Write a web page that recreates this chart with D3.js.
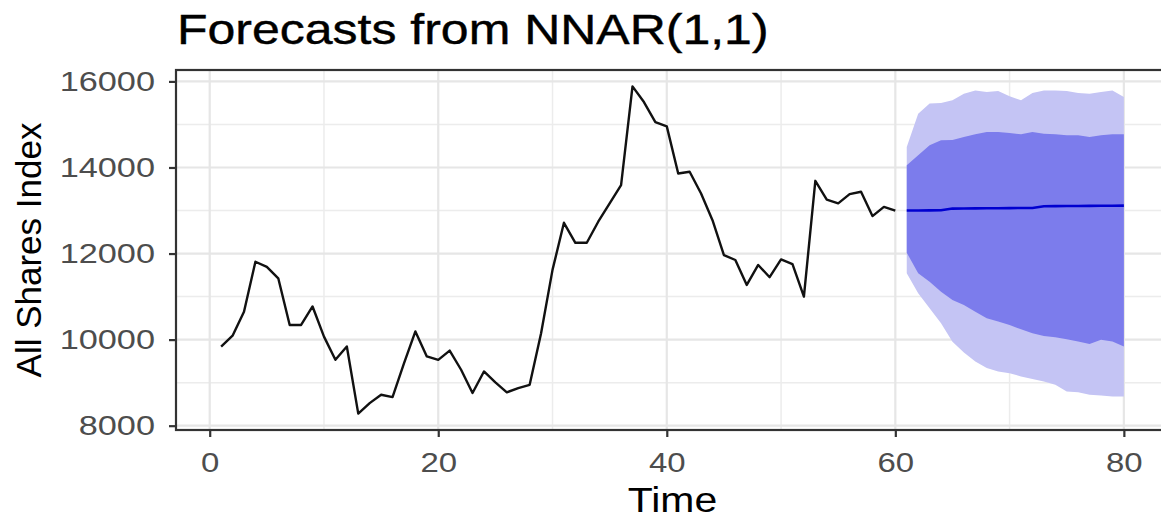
<!DOCTYPE html>
<html>
<head>
<meta charset="utf-8">
<script src="https://cdn.jsdelivr.net/npm/d3@7"></script>
<style>
  html, body { margin: 0; padding: 0; background: #fff; }
  svg { display: block; font-family: "Liberation Sans", Arial, sans-serif; }
</style>
</head>
<body>
<svg id="chart" width="1161" height="519"></svg>
<script>
// ---- data ----
const chartTitle = "Forecasts from NNAR(1,1)";
const xTitle = "Time";
const yTitle = "All Shares Index";
const histStart = 1;
const histValues = [
  9840, 10090, 10650, 11810, 11690, 11425, 10340, 10340, 10770, 10070,
  9530, 9840, 8280, 8525, 8720, 8665, 9450, 10190, 9610, 9530,
  9745, 9300, 8760, 9260, 9005, 8775, 8875, 8950, 10150, 11620,
  12715, 12250, 12250, 12740, 13165, 13590, 15885, 15520, 15055, 14955,
  13860, 13900, 13395, 12775, 11965, 11850, 11270, 11735, 11450, 11865,
  11755, 11000, 13690, 13255, 13165, 13380, 13435, 12870, 13085, 12995
];
const fcStart = 61;
const fcMean = [
  13000, 13002, 13004, 13006, 13045, 13048, 13050, 13052, 13054, 13056,
  13058, 13060, 13100, 13102, 13104, 13106, 13108, 13110, 13112, 13114
];
const lo80 = [
  12020, 11540, 11345, 11115, 10920, 10805, 10650, 10495, 10420, 10340,
  10240, 10150, 10085, 10055, 10010, 9955, 9900, 9995, 9955, 9840
];
const hi80 = [
  14050, 14285, 14515, 14630, 14640, 14710, 14770, 14825, 14825, 14800,
  14770, 14825, 14785, 14770, 14750, 14750, 14710, 14750, 14770, 14770
];
const lo95 = [
  11540, 11075, 10730, 10380, 9950, 9700, 9490, 9340, 9260, 9220,
  9145, 9085, 9025, 8950, 8795, 8775, 8720, 8700, 8680, 8680
];
const hi95 = [
  14475, 15250, 15485, 15500, 15560, 15715, 15790, 15755, 15775, 15655,
  15560, 15730, 15790, 15790, 15775, 15730, 15715, 15755, 15790, 15635
];
const yTicks = [8000, 10000, 12000, 14000, 16000];
const yMinor = [9000, 11000, 13000, 15000];
const xTicks = [0, 20, 40, 60, 80];
const xMinor = [10, 30, 50, 70];

// ---- build rows ----
const hist = histValues.map((v, i) => ({ t: histStart + i, v }));
const fc = fcMean.map((v, i) => ({
  t: fcStart + i, mean: v, lo80: lo80[i], hi80: hi80[i], lo95: lo95[i], hi95: hi95[i]
}));

// ---- layout ----
const panel = { left: 176, right: 1169, top: 70, bottom: 430 };
const svg = d3.select("#chart");

const tAll = hist.map(d => d.t).concat(fc.map(d => d.t));
const vAll = histValues.concat(lo95, hi95, fcMean);
const tExt = d3.extent(tAll), vExt = d3.extent(vAll);
const tPad = (tExt[1] - tExt[0]) * 0.05, vPad = (vExt[1] - vExt[0]) * 0.05;

const x = d3.scaleLinear().domain([tExt[0] - tPad, tExt[1] + tPad]).range([panel.left, panel.right]);
const y = d3.scaleLinear().domain([vExt[0] - vPad, vExt[1] + vPad]).range([panel.bottom, panel.top]);

function stretch(sel, f) {
  sel.each(function () {
    const w = this.getComputedTextLength();
    d3.select(this).attr("textLength", w * f).attr("lengthAdjust", "spacingAndGlyphs");
  });
}

// panel background
svg.append("rect").attr("x", panel.left).attr("y", panel.top)
  .attr("width", panel.right - panel.left).attr("height", panel.bottom - panel.top)
  .attr("fill", "#fff");

// grid
const grid = svg.append("g");
grid.selectAll(".ymin").data(yMinor).join("line")
  .attr("x1", panel.left).attr("x2", panel.right)
  .attr("y1", d => y(d)).attr("y2", d => y(d))
  .attr("stroke", "#ececec").attr("stroke-width", 1.5);
grid.selectAll(".xmin").data(xMinor).join("line")
  .attr("y1", panel.top).attr("y2", panel.bottom)
  .attr("x1", d => x(d)).attr("x2", d => x(d))
  .attr("stroke", "#ececec").attr("stroke-width", 1.5);
grid.selectAll(".ymaj").data(yTicks).join("line")
  .attr("x1", panel.left).attr("x2", panel.right)
  .attr("y1", d => y(d)).attr("y2", d => y(d))
  .attr("stroke", "#e6e6e6").attr("stroke-width", 2.2);
grid.selectAll(".xmaj").data(xTicks).join("line")
  .attr("y1", panel.top).attr("y2", panel.bottom)
  .attr("x1", d => x(d)).attr("x2", d => x(d))
  .attr("stroke", "#e6e6e6").attr("stroke-width", 2.2);

// forecast bands
const area95 = d3.area().x(d => x(d.t)).y0(d => y(d.lo95)).y1(d => y(d.hi95));
const area80 = d3.area().x(d => x(d.t)).y0(d => y(d.lo80)).y1(d => y(d.hi80));
svg.append("path").datum(fc).attr("d", area95).attr("fill", "#c4c4f4");
svg.append("path").datum(fc).attr("d", area80).attr("fill", "#7c7cec");

// history line
const line = d3.line().x(d => x(d.t)).y(d => y(d.v));
svg.append("path").datum(hist).attr("d", line)
  .attr("fill", "none").attr("stroke", "#111").attr("stroke-width", 2.4).attr("stroke-linejoin", "round");

// forecast mean
const mline = d3.line().x(d => x(d.t)).y(d => y(d.mean));
svg.append("path").datum(fc).attr("d", mline)
  .attr("fill", "none").attr("stroke", "#0000d0").attr("stroke-width", 2.6);

// panel border
svg.append("rect").attr("x", panel.left).attr("y", panel.top)
  .attr("width", panel.right - panel.left).attr("height", panel.bottom - panel.top)
  .attr("fill", "none").attr("stroke", "#333").attr("stroke-width", 2.2);

// axes
const yAxis = svg.append("g").attr("transform", `translate(${panel.left},0)`)
  .call(d3.axisLeft(y).tickValues(yTicks).tickSize(7).tickPadding(14).tickFormat(d3.format("d")));
const xAxis = svg.append("g").attr("transform", `translate(0,${panel.bottom})`)
  .call(d3.axisBottom(x).tickValues(xTicks).tickSize(7).tickPadding(16).tickFormat(d3.format("d")));
[yAxis, xAxis].forEach(g => {
  g.select(".domain").remove();
  g.selectAll(".tick line").attr("stroke", "#333").attr("stroke-width", 2.2);
  g.selectAll(".tick text").attr("fill", "#4d4d4d")
    .style("font-family", "'Liberation Sans', Arial, sans-serif").style("font-size", "27px");
});
stretch(yAxis.selectAll(".tick text"), 1.27);
stretch(xAxis.selectAll(".tick text"), 1.22);

// titles
const tt = svg.append("text").attr("x", 177).attr("y", 44)
  .style("font-size", "42px").attr("fill", "#000")
  .attr("stroke", "#000").attr("stroke-width", 0.4).text(chartTitle);
stretch(tt, 1.19);

const xt = svg.append("text").attr("x", (panel.left + panel.right) / 2).attr("y", 512)
  .attr("text-anchor", "middle").style("font-size", "35px").attr("fill", "#000").text(xTitle);
stretch(xt, 1.17);

svg.append("text")
  .attr("transform", `translate(41,${(panel.top + panel.bottom) / 2}) rotate(-90)`)
  .attr("text-anchor", "middle").style("font-size", "35px").attr("fill", "#000").text(yTitle);
</script>
</body>
</html>
